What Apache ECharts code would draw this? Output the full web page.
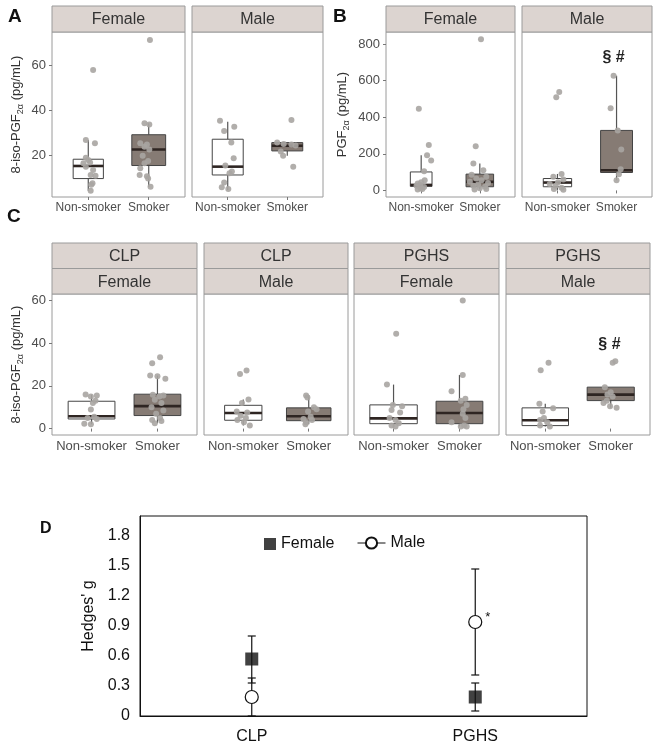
<!DOCTYPE html>
<html>
<head>
<meta charset="utf-8">
<script src="https://cdn.jsdelivr.net/npm/echarts@6/dist/echarts.min.js"></script>
<style>
  html, body { margin: 0; background: #fff; }
  #main { width: 662px; height: 750px; }
</style>
</head>
<body>
<div id="main"></div>
<script>
// ---------- data ----------
var groups = ['Non-smoker', 'Smoker'];

// boxes: [whisker low, q1, median, q3, whisker high] for Non-smoker, Smoker
// A: 8-iso-PGF2a
var boxA_F = [[4.1, 9.5, 15.1, 18.1, 26.7], [5.9, 15.3, 22.4, 29.0, 34.1]];
var boxA_M = [[4.4, 11.1, 14.8, 27.0, 34.8], [19.6, 21.8, 24.1, 25.5, 25.5]];
var ptsA_F_non = [57.8, 26.7, 25.2, 18.8, 17.8, 16.7, 16.3, 14.8, 13.3, 11.1, 10.8, 7.4, 6.7, 4.1];
var jitA_F_non = [0.08, -0.04, 0.11, -0.04, 0, 0.03, -0.08, -0.04, 0.08, 0.04, 0.12, 0.07, 0.05, 0.04];
var ptsA_F_smk = [71.1, 34.1, 33.5, 25.2, 24.6, 23.7, 22.4, 19.6, 17.3, 16.3, 14.1, 11.1, 10.5, 9.5, 5.9];
var jitA_F_smk = [0.02, -0.07, 0.01, -0.14, -0.03, -0.07, 0.01, -0.1, -0.01, -0.07, -0.14, -0.15, -0.03, -0.01, 0.03];
var ptsA_M_non = [35.2, 32.6, 30.7, 25.5, 18.5, 15.3, 12.6, 11.9, 7.7, 5.6, 4.9];
var jitA_M_non = [-0.13, 0.11, -0.06, 0.06, 0.1, -0.04, 0.07, 0.03, -0.06, -0.1, 0.01];
var ptsA_M_smk = [35.6, 25.5, 24.9, 24.6, 24.2, 21.5, 19.6, 14.8];
var jitA_M_smk = [0.07, -0.17, -0.06, 0.07, 0.14, -0.11, -0.07, 0.1];

// B: PGF2a
var boxB_F = [[3, 22, 30, 101, 192], [5, 20, 47, 89, 147]];
var boxB_M = [[3, 20, 43, 65, 90], [56, 98, 110, 328, 627]];
var ptsB_F_non = [446, 248, 192, 163, 105, 55, 45, 38, 30, 25, 18, 12, 8, 5];
var jitB_F_non = [-0.04, 0.13, 0.1, 0.17, 0.05, 0.06, 0, -0.06, -0.02, -0.08, 0.05, -0.01, 0.02, -0.06];
var ptsB_F_smk = [826, 241, 147, 110, 85, 75, 65, 55, 48, 40, 32, 25, 20, 12, 8, 5];
var jitB_F_smk = [0.02, -0.07, -0.11, 0.06, -0.14, 0.11, -0.06, 0.03, -0.17, 0.14, -0.03, -0.11, 0.09, 0, 0.11, -0.09];
var ptsB_M_non = [538, 509, 90, 75, 60, 45, 35, 25, 15, 8, 3];
var jitB_M_non = [0.03, -0.02, 0.07, -0.07, 0.1, 0.01, -0.13, -0.03, 0.07, -0.06, 0.1];
var ptsB_M_smk = [627, 449, 328, 224, 116, 89, 56];
var jitB_M_smk = [-0.05, -0.1, 0.02, 0.08, 0.07, 0.04, 0];
var sigB = [1.95, 724];

// C: 8-iso-PGF2a by genotype group and sex
var boxC_CF = [[2.0, 4.5, 5.8, 12.8, 15.9], [2.5, 6.1, 10.5, 16.1, 24.8]];
var boxC_CM = [[1.5, 3.9, 7.3, 10.9, 13.6], [2.0, 3.7, 5.8, 9.7, 15.6]];
var boxC_PF = [[1.0, 2.3, 4.8, 11.1, 20.6], [1.0, 2.3, 7.3, 12.8, 25.1]];
var boxC_PM = [[1.0, 1.4, 3.9, 9.7, 11.6], [9.7, 13.1, 15.9, 19.4, 19.4]];
var ptsC_CF_non = [16.0, 15.5, 15.0, 13.0, 12.0, 8.9, 5.5, 5.0, 4.5, 2.3, 2.0];
var jitC_CF_non = [-0.09, 0.08, -0.01, 0.06, 0.02, -0.01, 0.04, -0.06, 0.08, -0.11, -0.01];
var ptsC_CF_smk = [33.4, 30.6, 24.8, 24.5, 23.3, 15.8, 15.5, 15.0, 13.5, 12.0, 10.0, 8.5, 7.0, 5.0, 4.0, 3.5, 2.5];
var jitC_CF_smk = [0.04, -0.08, -0.11, 0.0, 0.12, -0.07, 0.09, 0.03, -0.04, 0.06, -0.09, 0.09, -0.02, 0.04, -0.08, 0.06, -0.04];
var ptsC_CM_non = [27.2, 25.6, 13.6, 12.0, 8.0, 7.5, 6.0, 5.0, 4.0, 3.0, 1.5];
var jitC_CM_non = [0.05, -0.05, 0.08, -0.02, -0.1, 0.06, -0.04, 0.04, -0.09, 0.01, 0.1];
var ptsC_CM_smk = [15.5, 14.5, 10.0, 9.0, 8.0, 5.5, 4.5, 4.0, 3.0, 2.0];
var jitC_CM_smk = [-0.04, -0.02, 0.08, 0.12, -0.01, 0.03, -0.08, 0.05, -0.04, -0.05];
var ptsC_PF_non = [44.4, 20.6, 11.1, 10.5, 8.7, 7.5, 5.0, 4.0, 2.5, 1.5, 1.0];
var jitC_PF_non = [0.04, -0.1, -0.01, 0.13, -0.03, 0.1, -0.06, 0.03, 0.08, -0.03, 0.03];
var ptsC_PF_smk = [60.0, 25.1, 17.5, 14.0, 13.0, 11.0, 9.0, 7.0, 5.0, 3.0, 1.5, 1.0, 1.0];
var jitC_PF_smk = [0.05, 0.05, -0.12, 0.09, 0.02, 0.11, 0.06, 0.05, 0.09, -0.12, 0.07, 0.02, 0.11];
var ptsC_PM_non = [30.8, 27.3, 11.6, 9.5, 8.0, 5.0, 4.0, 3.0, 1.5, 1.0];
var jitC_PM_non = [0.05, -0.07, -0.09, 0.12, -0.04, -0.02, -0.08, 0.03, -0.08, 0.07];
var ptsC_PM_smk = [31.5, 30.8, 19.4, 17.0, 16.0, 15.0, 13.0, 12.0, 10.5, 9.7];
var jitC_PM_smk = [0.07, 0.03, -0.09, 0, -0.05, 0.03, -0.06, -0.11, -0.01, 0.09];
var sigC = [1.98, 39.3];

// D: Hedges' g with CI
var dCats = ['CLP', 'PGHS'];
var dTicks = [0, 0.3, 0.6, 0.9, 1.2, 1.5, 1.8];
var dFemale = [0.57, 0.19];
var dFemaleLo = [0.33, 0.05];
var dFemaleHi = [0.80, 0.33];
var dMale = [0.19, 0.94];
var dMaleLo = [0.0, 0.41];
var dMaleHi = [0.38, 1.47];
var dMaleMark = ['', '*'];

// ---------- chart ----------
var FONT = '"Liberation Sans", Arial, Helvetica, sans-serif';
var chart = echarts.init(document.getElementById('main'));

var isoName = '{n|8-iso-PGF}{s|2α}{n| (pg/mL)}';
var pgfName = '{n|PGF}{s|2α}{n| (pg/mL)}';
var nameRich = {
  n: { fontSize: 13, lineHeight: 18, color: '#333', fontFamily: FONT, verticalAlign: 'middle' },
  s: { fontSize: 9, lineHeight: 9, color: '#333', fontFamily: FONT, verticalAlign: 'bottom' }
};

var facets = [
  { rect: [52, 32, 133, 165], y: [1.3, 74.7], ticks: [20, 40, 60], name: isoName, gap: 27, box: boxA_F, w: [0.5, 0.56],
    pts: [[ptsA_F_non, jitA_F_non], [ptsA_F_smk, jitA_F_smk]], strips: ['Female'], sh: 26, lab: 12 },
  { rect: [192, 32, 131, 165], y: [1.3, 74.7], box: boxA_M, w: [0.52, 0.52],
    pts: [[ptsA_M_non, jitA_M_non], [ptsA_M_smk, jitA_M_smk]], strips: ['Male'], sh: 26, lab: 12 },
  { rect: [386, 32, 129, 165], y: [-36, 866], ticks: [0, 200, 400, 600, 800], name: pgfName, gap: 35, box: boxB_F, w: [0.37, 0.47],
    pts: [[ptsB_F_non, jitB_F_non], [ptsB_F_smk, jitB_F_smk]], strips: ['Female'], sh: 26, lab: 12 },
  { rect: [522, 32, 130, 165], y: [-36, 866], box: boxB_M, w: [0.48, 0.54],
    pts: [[ptsB_M_non, jitB_M_non], [ptsB_M_smk, jitB_M_smk]], strips: ['Male'], sh: 26, lab: 12, sig: sigB },
  { rect: [52, 294, 145, 141], y: [-3, 63], ticks: [0, 20, 40, 60], name: isoName, gap: 27, box: boxC_CF, w: [0.71, 0.71],
    pts: [[ptsC_CF_non, jitC_CF_non], [ptsC_CF_smk, jitC_CF_smk]], strips: ['CLP', 'Female'], sh: 25.5, lab: 13 },
  { rect: [204, 294, 144, 141], y: [-3, 63], box: boxC_CM, w: [0.57, 0.68],
    pts: [[ptsC_CM_non, jitC_CM_non], [ptsC_CM_smk, jitC_CM_smk]], strips: ['CLP', 'Male'], sh: 25.5, lab: 13 },
  { rect: [354, 294, 145, 141], y: [-3, 63], box: boxC_PF, w: [0.72, 0.71],
    pts: [[ptsC_PF_non, jitC_PF_non], [ptsC_PF_smk, jitC_PF_smk]], strips: ['PGHS', 'Female'], sh: 25.5, lab: 13 },
  { rect: [506, 294, 144, 141], y: [-3, 63], box: boxC_PM, w: [0.71, 0.72],
    pts: [[ptsC_PM_non, jitC_PM_non], [ptsC_PM_smk, jitC_PM_smk]], strips: ['PGHS', 'Male'], sh: 25.5, lab: 13, sig: sigC }
];

var grids = [], xAxes = [], yAxes = [], series = [], graphics = [];

function boxRender(params, api) {
  var x = api.value(0);
  var lo = api.coord([x, api.value(1)]);
  var q1 = api.coord([x, api.value(2)]);
  var md = api.coord([x, api.value(3)]);
  var q3 = api.coord([x, api.value(4)]);
  var hi = api.coord([x, api.value(5)]);
  var hw = api.size([api.value(6), 0])[0] / 2;
  var fill = params.dataIndex === 0 ? '#ffffff' : '#867b74';
  var wStyle = { stroke: '#555', lineWidth: 1.2 };
  return {
    type: 'group',
    children: [
      { type: 'line', shape: { x1: lo[0], y1: lo[1], x2: q1[0], y2: q1[1] }, style: wStyle },
      { type: 'line', shape: { x1: q3[0], y1: q3[1], x2: hi[0], y2: hi[1] }, style: wStyle },
      { type: 'rect', shape: { x: q3[0] - hw, y: q3[1], width: hw * 2, height: q1[1] - q3[1] },
        style: { fill: fill, stroke: '#444', lineWidth: 1 } },
      { type: 'line', shape: { x1: md[0] - hw, y1: md[1], x2: md[0] + hw, y2: md[1] },
        style: { stroke: '#2e2522', lineWidth: 2.6 } }
    ]
  };
}

facets.forEach(function (f, i) {
  var l = f.rect[0], t = f.rect[1], w = f.rect[2], h = f.rect[3];
  grids.push({ left: l, top: t, width: w, height: h, show: true, backgroundColor: '#fff',
    borderColor: '#9a9a9a', borderWidth: 1, containLabel: false, outerBoundsMode: 'none' });
  xAxes.push({
    type: 'value', gridIndex: i, min: 0.4, max: 2.6,
    axisLine: { show: false }, splitLine: { show: false },
    axisTick: { customValues: [1, 2], length: 3, lineStyle: { color: '#777' } },
    axisLabel: { customValues: [1, 2], formatter: function (v) { return groups[Math.round(v) - 1]; },
      fontSize: f.lab, color: '#4d4d4d', margin: 5, fontFamily: FONT }
  });
  yAxes.push({
    type: 'value', gridIndex: i, min: f.y[0], max: f.y[1],
    axisLine: { show: false }, splitLine: { show: false },
    axisTick: { show: !!f.ticks, customValues: f.ticks, length: 3, lineStyle: { color: '#777' } },
    axisLabel: { show: !!f.ticks, customValues: f.ticks, fontSize: 13, color: '#4d4d4d', margin: 6, fontFamily: FONT },
    name: f.name || '', nameLocation: 'middle', nameGap: f.gap || 0,
    nameTextStyle: { rich: nameRich }
  });
  series.push({
    type: 'custom', xAxisIndex: i, yAxisIndex: i, z: 2,
    data: f.box.map(function (b, k) { return [k + 1].concat(b).concat([f.w[k]]); }),
    encode: { x: 0, y: [1, 5] },
    renderItem: boxRender
  });
  f.pts.forEach(function (p, k) {
    series.push({
      type: 'scatter', xAxisIndex: i, yAxisIndex: i, z: 3, symbolSize: 6,
      itemStyle: { color: '#a9a5a2', opacity: 0.9 },
      data: p[0].map(function (v, j) { return [k + 1 + p[1][j], v]; })
    });
  });
  if (f.sig) {
    series.push({
      type: 'custom', xAxisIndex: i, yAxisIndex: i, z: 4, data: [f.sig],
      renderItem: function (params, api) {
        var c = api.coord([api.value(0), api.value(1)]);
        return { type: 'text', x: c[0], y: c[1],
          style: { text: '§ #', font: 'bold 16px ' + FONT, fill: '#222', align: 'center', verticalAlign: 'middle' } };
      }
    });
  }
  f.strips.forEach(function (s, k) {
    var sy = t - (f.strips.length - k) * f.sh;
    graphics.push({ type: 'rect', shape: { x: l, y: sy, width: w, height: f.sh },
      style: { fill: '#dcd4d0', stroke: '#9a9a9a', lineWidth: 1 } });
    graphics.push({ type: 'text', x: l + w / 2, y: sy + f.sh / 2 + 1,
      style: { text: s, font: '16px ' + FONT, fill: '#333', align: 'center', verticalAlign: 'middle' } });
  });
});

// panel D
var di = facets.length;
grids.push({ left: 140, top: 516, width: 447, height: 200, show: true, backgroundColor: '#fff',
  borderColor: '#111', borderWidth: 1, containLabel: false, outerBoundsMode: 'none' });
xAxes.push({
  type: 'category', gridIndex: di, data: dCats, boundaryGap: true,
  axisLine: { lineStyle: { color: '#111' } },
  axisTick: { inside: true, length: 5, lineStyle: { color: '#111' } },
  axisLabel: { fontSize: 16, color: '#111', margin: 13, fontFamily: FONT }
});
yAxes.push({
  type: 'value', gridIndex: di, min: 0, max: 2.0,
  axisLine: { show: true, lineStyle: { color: '#111' } }, splitLine: { show: false },
  axisTick: { inside: true, length: 4, customValues: dTicks, lineStyle: { color: '#111' } },
  axisLabel: { customValues: dTicks, formatter: function (v) { return v === 0 ? '0' : v.toFixed(1); },
    fontSize: 16, color: '#111', margin: 10, fontFamily: FONT },
  name: "Hedges' g", nameLocation: 'middle', nameGap: 43,
  nameTextStyle: { fontSize: 16, color: '#111', fontFamily: FONT }
});

function errRender(params, api) {
  var a = api.coord([api.value(0), api.value(1)]);
  var b = api.coord([api.value(0), api.value(2)]);
  var st = { stroke: '#111', lineWidth: 1.2 };
  return {
    type: 'group',
    children: [
      { type: 'line', shape: { x1: a[0], y1: a[1], x2: b[0], y2: b[1] }, style: st },
      { type: 'line', shape: { x1: a[0] - 4, y1: a[1], x2: a[0] + 4, y2: a[1] }, style: st },
      { type: 'line', shape: { x1: b[0] - 4, y1: b[1], x2: b[0] + 4, y2: b[1] }, style: st }
    ]
  };
}

series.push({
  type: 'custom', name: 'errFemale', xAxisIndex: di, yAxisIndex: di, z: 1,
  data: dCats.map(function (c, i) { return [i, dFemaleLo[i], dFemaleHi[i]]; }),
  encode: { x: 0, y: [1, 2] }, renderItem: errRender
});
series.push({
  type: 'custom', name: 'errMale', xAxisIndex: di, yAxisIndex: di, z: 1,
  data: dCats.map(function (c, i) { return [i, dMaleLo[i], dMaleHi[i]]; }),
  encode: { x: 0, y: [1, 2] }, renderItem: errRender
});
series.push({
  type: 'scatter', name: 'Female', xAxisIndex: di, yAxisIndex: di, z: 3,
  symbol: 'rect', symbolSize: 13, itemStyle: { color: '#111' },
  data: dFemale.map(function (v, i) { return [i, v]; })
});
series.push({
  type: 'line', name: 'Male', xAxisIndex: di, yAxisIndex: di, z: 3,
  symbol: 'circle', symbolSize: 13, showSymbol: true,
  itemStyle: { color: '#fff', borderColor: '#111', borderWidth: 1.2 },
  lineStyle: { opacity: 0 },
  data: dMale.map(function (v, i) {
    return { value: [i, v], label: { show: dMaleMark[i] !== '', formatter: dMaleMark[i], position: 'right',
      distance: 3, offset: [0, -5], fontSize: 13, color: '#111' } };
  })
});

// panel letters
[['A', 8, 7, 19], ['B', 333, 7, 19], ['C', 7, 207, 19], ['D', 40, 521, 16]].forEach(function (p) {
  graphics.push({ type: 'text', x: p[1], y: p[2],
    style: { text: p[0], font: 'bold ' + p[3] + 'px ' + FONT, fill: '#111', align: 'left', verticalAlign: 'top' } });
});

chart.setOption({
  animation: false,
  textStyle: { fontFamily: FONT },
  grid: grids,
  xAxis: xAxes,
  yAxis: yAxes,
  legend: [
    { data: [{ name: 'Female', icon: 'rect' }], left: 259, top: 531, itemWidth: 12, itemHeight: 12,
      selectedMode: false, textStyle: { fontSize: 16, color: '#111', fontFamily: FONT } },
    { data: ['Male'], left: 352, top: 530, itemWidth: 28, itemHeight: 14, selectedMode: false,
      lineStyle: { color: '#111', width: 1, opacity: 1 },
      textStyle: { fontSize: 16, color: '#111', fontFamily: FONT } }
  ],
  graphic: graphics,
  series: series
});
</script>
</body>
</html>
